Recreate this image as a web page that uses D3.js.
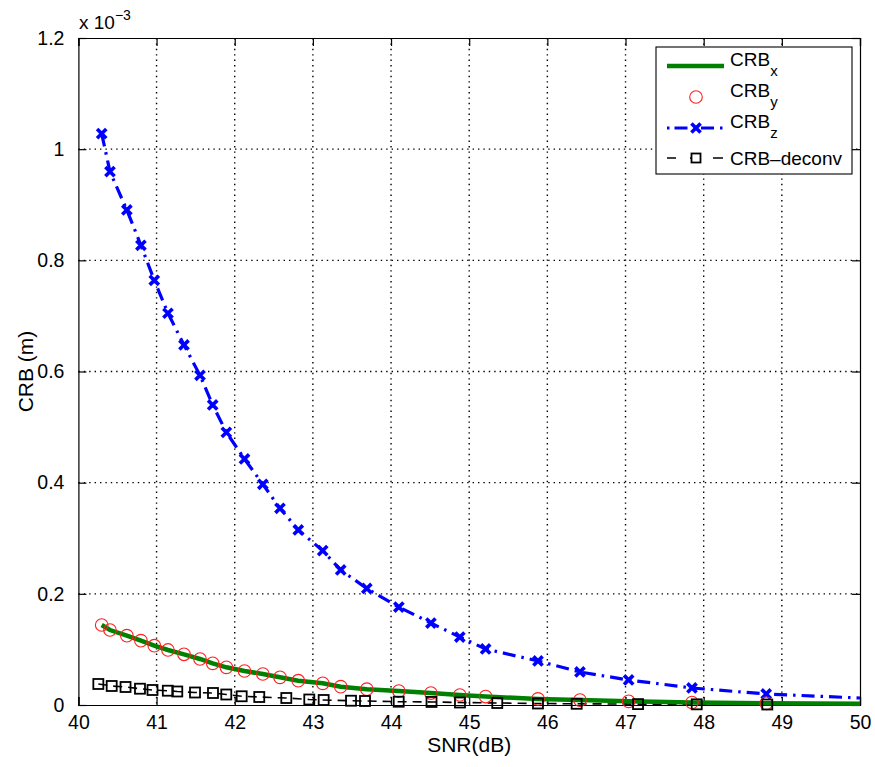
<!DOCTYPE html>
<html>
<head>
<meta charset="utf-8">
<script src="https://cdn.jsdelivr.net/npm/d3@7"></script>
<style>
  html, body { margin: 0; padding: 0; background: #fff; }
  svg { display: block; font-family: "Liberation Sans", Arial, Helvetica, sans-serif; }
</style>
</head>
<body>
<svg id="chart" width="875" height="767"></svg>
<script>
// SNR grid (dB) for the x / y / z bounds (markers)
const snr = [40.298, 40.404, 40.62, 40.80, 40.971, 41.146, 41.351, 41.556, 41.718, 41.893,
             42.125, 42.36, 42.579, 42.813, 43.126, 43.356, 43.69, 44.10, 44.51, 44.88,
             45.21, 45.88, 46.417, 47.04, 47.85, 48.8];
// CRB values in units of 1e-3 m
const crbX = [0.1439, 0.1349, 0.1247, 0.1157, 0.1067, 0.0990, 0.0912, 0.0828, 0.0750, 0.0678,
              0.0612, 0.0558, 0.0498, 0.0437, 0.0390, 0.0330, 0.0285, 0.0250, 0.0215, 0.0180,
              0.0152, 0.0110, 0.0088, 0.0066, 0.0045, 0.0030];
const crbY = [0.1439, 0.1349, 0.1247, 0.1157, 0.1067, 0.0990, 0.0912, 0.0828, 0.0750, 0.0678,
              0.0612, 0.0558, 0.0498, 0.0437, 0.0390, 0.0330, 0.0285, 0.0250, 0.0215, 0.0180,
              0.0152, 0.0110, 0.0088, 0.0066, 0.0045, 0.0030];
const crbZ = [1.028, 0.9595, 0.8906, 0.8271, 0.7641, 0.7048, 0.6477, 0.5932, 0.5398, 0.4906,
              0.4426, 0.3971, 0.3539, 0.3149, 0.2776, 0.2429, 0.2096, 0.1763, 0.1475, 0.1223,
              0.1008, 0.0792, 0.0594, 0.0450, 0.0306, 0.0198];
// curve end values at SNR = 50 dB (line only, no marker)
const tailSnr = 50;
const tailX = 0.0022, tailZ = 0.0126, tailDeconv = 0.0007;

// SNR grid (dB) and CRB (1e-3 m) for the deconvolution bound
const snrDeconv = [40.255, 40.426, 40.603, 40.788, 40.948, 41.144, 41.265, 41.492, 41.722, 41.892,
                   42.089, 42.314, 42.660, 42.954, 43.138, 43.488, 43.667, 44.098, 44.518, 44.882,
                   45.359, 45.880, 46.375, 47.160, 47.911, 48.814];
const crbDeconv = [0.0378, 0.0342, 0.0324, 0.0293, 0.0270, 0.0257, 0.0243, 0.0225, 0.0216, 0.0189,
                   0.0157, 0.0144, 0.0126, 0.0099, 0.0090, 0.0077, 0.0072, 0.0059, 0.0055, 0.0045,
                   0.0036, 0.0027, 0.0022, 0.0016, 0.0012, 0.0009];

const xTicks = [40, 41, 42, 43, 44, 45, 46, 47, 48, 49, 50];
const yTicks = [0, 0.2, 0.4, 0.6, 0.8, 1, 1.2];

const svg = d3.select("#chart");
const L = 78.4, R = 860, T = 38, B = 705;
const x = d3.scaleLinear().domain([40, 50]).range([L, R]);
const y = d3.scaleLinear().domain([0, 1.2]).range([B, T]);

// grid
const grid = svg.append("g").attr("stroke", "#000").attr("stroke-width", 1.4)
  .attr("stroke-dasharray", "1.4,4");
grid.selectAll(".gx").data(xTicks.slice(1, -1)).join("line")
  .attr("x1", d => x(d)).attr("x2", d => x(d)).attr("y1", T).attr("y2", B);
grid.selectAll(".gy").data(yTicks.slice(1, -1)).join("line")
  .attr("x1", L).attr("x2", R).attr("y1", d => y(d)).attr("y2", d => y(d));

// axes (ticks point inward, mirrored on top and right)
const tick = 8;
const fmtY = d => d === 0 ? "0" : d3.format("~g")(d);
const ax = svg.append("g").attr("font-size", 19).attr("fill", "#000");
ax.append("g").attr("transform", `translate(0,${B})`)
  .call(d3.axisBottom(x).tickValues(xTicks).tickSize(-tick).tickPadding(10).tickFormat(d3.format("d")));
ax.append("g").attr("transform", `translate(0,${T})`)
  .call(d3.axisTop(x).tickValues(xTicks).tickSize(-tick).tickFormat(""));
ax.append("g").attr("transform", `translate(${L},0)`)
  .call(d3.axisLeft(y).tickValues(yTicks).tickSize(-tick).tickPadding(14).tickFormat(fmtY));
ax.append("g").attr("transform", `translate(${R},0)`)
  .call(d3.axisRight(y).tickValues(yTicks).tickSize(-tick).tickFormat(""));
ax.selectAll(".domain").attr("stroke", "#000").attr("stroke-width", 1.2);
ax.selectAll(".tick line").attr("stroke", "#000").attr("stroke-width", 1.2);
ax.selectAll("text").attr("font-size", 19.5).attr("fill", "#000")
  .attr("font-family", "'Liberation Sans', Arial, sans-serif");

// exponent label
const ex = svg.append("text").attr("x", 79).attr("y", 29).attr("font-size", 19).attr("fill", "#000");
ex.append("tspan").text("x 10");
ex.append("tspan").attr("dy", -9).attr("font-size", 14).text("\u22123");

// axis titles
svg.append("text").attr("x", (L + R) / 2).attr("y", 752).attr("text-anchor", "middle")
  .attr("font-size", 21).attr("fill", "#000").text("SNR(dB)");
svg.append("text").attr("transform", `translate(33,${(T + B) / 2}) rotate(-90)`)
  .attr("text-anchor", "middle").attr("font-size", 21).attr("fill", "#000").text("CRB (m)");

const plot = svg.append("g");
const line = d3.line().x(d => x(d[0])).y(d => y(d[1]));

const ptsX = snr.map((s, i) => [s, crbX[i]]).concat([[tailSnr, tailX]]);
const ptsY = snr.map((s, i) => [s, crbY[i]]);
const ptsZ = snr.map((s, i) => [s, crbZ[i]]);
const ptsD = snrDeconv.map((s, i) => [s, crbDeconv[i]]);

// CRB-deconv: black dashed with squares
plot.append("path").datum(ptsD.concat([[tailSnr, tailDeconv]])).attr("d", line)
  .attr("fill", "none").attr("stroke", "#000").attr("stroke-width", 1.6).attr("stroke-dasharray", "9,6");

// CRBx: thick green
plot.append("path").datum(ptsX).attr("d", line)
  .attr("fill", "none").attr("stroke", "#008000").attr("stroke-width", 4.5);

// CRBz: blue dash-dot
plot.append("path").datum(ptsZ.concat([[tailSnr, tailZ]])).attr("d", line)
  .attr("fill", "none").attr("stroke", "#0000ff").attr("stroke-width", 3.2)
  .attr("stroke-dasharray", "13,6,2.5,6");

// markers
function xMark(g, cx, cy, s) {
  g.append("path").attr("d", `M${cx - s},${cy - s}L${cx + s},${cy + s}M${cx - s},${cy + s}L${cx + s},${cy - s}`)
    .attr("stroke", "#0000ff").attr("stroke-width", 3.6).attr("fill", "none");
}
const mz = plot.append("g");
ptsZ.forEach(d => xMark(mz, x(d[0]), y(d[1]), 4.6));

plot.append("g").selectAll("circle").data(ptsY).join("circle")
  .attr("cx", d => x(d[0])).attr("cy", d => y(d[1])).attr("r", 6.3)
  .attr("fill", "none").attr("stroke", "#ff2020").attr("stroke-width", 1.1);

plot.append("g").selectAll("rect").data(ptsD).join("rect")
  .attr("x", d => x(d[0]) - 5).attr("y", d => y(d[1]) - 5).attr("width", 10).attr("height", 10)
  .attr("fill", "none").attr("stroke", "#000").attr("stroke-width", 1.8);

// legend
const lg = svg.append("g");
lg.append("rect").attr("x", 656).attr("y", 47).attr("width", 196).attr("height", 127)
  .attr("fill", "#fff").attr("stroke", "#000").attr("stroke-width", 1.1);
const lx1 = 667, lx2 = 724, lmx = 696, tx = 730;
const rows = [
  { y: 66, label: "CRB", sub: "x" },
  { y: 97, label: "CRB", sub: "y" },
  { y: 128, label: "CRB", sub: "z" },
  { y: 158, label: "CRB\u2013deconv", sub: null }
];
lg.append("line").attr("x1", lx1).attr("x2", lx2).attr("y1", rows[0].y).attr("y2", rows[0].y)
  .attr("stroke", "#008000").attr("stroke-width", 4.5);
lg.append("circle").attr("cx", lmx).attr("cy", rows[1].y).attr("r", 6.3)
  .attr("fill", "none").attr("stroke", "#ff2020").attr("stroke-width", 1.1);
lg.append("line").attr("x1", lx1).attr("x2", lx2).attr("y1", rows[2].y).attr("y2", rows[2].y)
  .attr("stroke", "#0000ff").attr("stroke-width", 3.2).attr("stroke-dasharray", "2.5,5,13,6");
xMark(lg, lmx, rows[2].y, 4.6);
lg.append("line").attr("x1", lx1).attr("x2", lx2).attr("y1", rows[3].y).attr("y2", rows[3].y)
  .attr("stroke", "#000").attr("stroke-width", 1.6).attr("stroke-dasharray", "9,14,9,14,10");
lg.append("rect").attr("x", lmx - 4.5).attr("y", rows[3].y - 4.5).attr("width", 9).attr("height", 9)
  .attr("fill", "#fff").attr("stroke", "#000").attr("stroke-width", 1.8);
rows.forEach(r => {
  const t = lg.append("text").attr("x", tx).attr("y", r.y + (r.sub ? 0 : 7)).attr("font-size", 19).attr("fill", "#000");
  t.append("tspan").text(r.label);
  if (r.sub) t.append("tspan").attr("dy", 10).attr("font-size", 15).text(r.sub);
});
</script>
</body>
</html>
